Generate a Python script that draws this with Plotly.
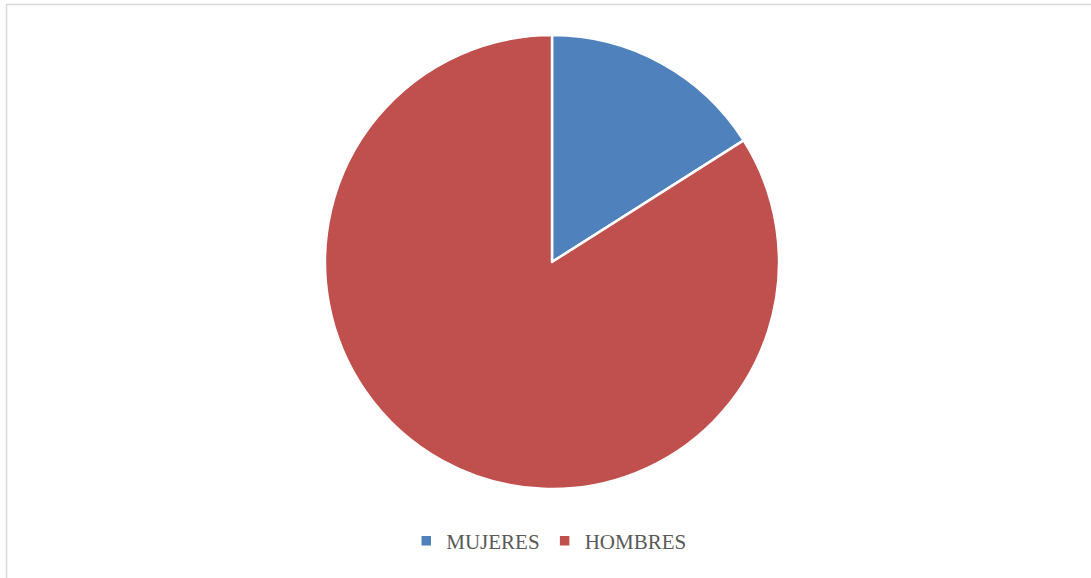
import plotly.graph_objects as go

labels = ["MUJERES", "HOMBRES"]
values = [16, 84]
colors = ["#4F81BD", "#C0504D"]

W, H = 1091, 578
cx, cy, r = 552, 262, 227

fig = go.Figure(go.Pie(
    labels=labels,
    values=values,
    sort=False,
    direction="clockwise",
    rotation=0,
    marker=dict(colors=colors, line=dict(color="white", width=2.5)),
    textinfo="none",
    hoverinfo="label+value",
    domain=dict(x=[(cx - r) / W, (cx + r) / W], y=[1 - (cy + r) / H, 1 - (cy - r) / H]),
))

fig.update_layout(
    width=W, height=H,
    margin=dict(l=0, r=0, t=0, b=0),
    paper_bgcolor="white",
    showlegend=True,
    legend=dict(
        orientation="h",
        x=0.503, xanchor="center",
        y=1 - 541 / H, yanchor="middle",
        font=dict(family="Liberation Serif", size=21, color="#595959"),
        itemwidth=30,
    ),
    shapes=[dict(type="rect", xref="paper", yref="paper",
                 x0=6.5 / W, x1=1.2, y0=-0.2, y1=1 - 4.5 / H,
                 line=dict(color="#D9D9D9", width=1.5), fillcolor="rgba(0,0,0,0)")],
)

fig.write_html(
    "out.html",
    config={"displayModeBar": False},
    post_script="document.documentElement.style.margin='0';document.body.style.margin='0';document.body.style.overflow='hidden';",
)
